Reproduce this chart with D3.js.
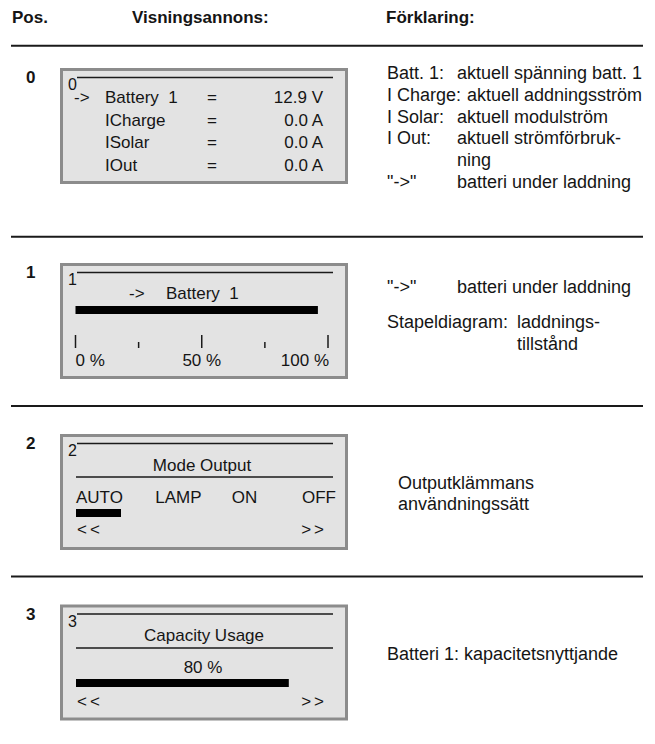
<!DOCTYPE html>
<html><head><meta charset="utf-8">
<script src="https://cdn.jsdelivr.net/npm/d3@7"></script>
<style>
body{margin:0;background:#fff}
svg{display:block}
text{font-family:"Liberation Sans",Arial,Helvetica,sans-serif;fill:#151515}
</style>
</head><body><svg id="c" width="655" height="744"></svg>
<script>
// ---------------- data ----------------
const headers = ["Pos.", "Visningsannons:", "Förklaring:"];
const positions = ["0", "1", "2", "3"];

// Pos 0 display
const rowLabels = ["Battery  1", "ICharge", "ISolar", "IOut"];
const rowValues = ["12.9 V", "0.0 A", "0.0 A", "0.0 A"];
const chargingRow = "Battery  1";
const explain0 = [
  ["Batt. 1:", "aktuell spänning batt. 1"],
  ["I Charge:", "aktuell addningsström"],
  ["I Solar:", "aktuell modulström"],
  ["I Out:", "aktuell strömförbruk-"],
  ["", "ning"],
  ["\"->\"", "batteri under laddning"]
];

// Pos 1 display
const batteryName = "Battery  1";
const chargeLevel = 96;              // % shown by the bar
const chargeTicks = [0, 25, 50, 75, 100];
const chargeTickLabels = [[0, "0 %"], [50, "50 %"], [100, "100 %"]];
const explain1 = [["\"->\"", "batteri under laddning"], ["Stapeldiagram:", "laddnings-"], ["", "tillstånd"]];

// Pos 2 display
const modeTitle = "Mode Output";
const modeOptions = ["AUTO", "LAMP", "ON", "OFF"];
const modeSelected = "AUTO";
const explain2 = ["Outputklämmans", "användningssätt"];

// Pos 3 display
const capacityTitle = "Capacity Usage";
const capacityUsage = 80;            // %
const explain3 = "Batteri 1: kapacitetsnyttjande";

// ---------------- layout ----------------
const svg = d3.select("#c");
const FS = 17, RFS = 18;
const boxTop = [68, 263, 434, 604.5];
const sepY = [45.7, 236.7, 406, 576.5];
const BX0 = 60, BX1 = 348, IN0 = 76, IN1 = 333, CX = 204;

svg.selectAll("text.hdr").data(headers).join("text").attr("class", "hdr")
  .attr("x", (d, i) => [12, 132, 386][i]).attr("y", 23)
  .attr("font-weight", "bold").attr("font-size", FS).text(d => d);

svg.selectAll("line.sep").data(sepY).join("line").attr("class", "sep")
  .attr("x1", 11).attr("x2", 643).attr("y1", d => d).attr("y2", d => d)
  .attr("stroke", "#1a1a1a").attr("stroke-width", 2);

svg.selectAll("text.pos").data(positions).join("text").attr("class", "pos")
  .attr("x", 26).attr("y", (d, i) => boxTop[i] + 15)
  .attr("font-weight", "bold").attr("font-size", FS).text(d => d);

const boxes = svg.selectAll("g.box").data(positions).join("g").attr("class", "box")
  .attr("transform", (d, i) => `translate(0,${boxTop[i]})`);
boxes.append("rect").attr("x", BX0 + 1.5).attr("y", 1.5).attr("width", BX1 - BX0 - 3).attr("height", 113)
  .attr("fill", "#e3e3e3").attr("stroke", "#8c8c8c").attr("stroke-width", 3);
boxes.append("text").attr("x", 68).attr("y", 22).attr("font-size", 16).text(d => d);
boxes.append("line").attr("x1", 77).attr("x2", IN1).attr("y1", 9.5).attr("y2", 9.5)
  .attr("stroke", "#1a1a1a").attr("stroke-width", 1.6);

const g = positions.map((p, i) => d3.select(boxes.nodes()[i]));

// ---- Pos 0 ----
const yRow = d3.scalePoint().domain(rowLabels).range([35, 103]);
g[0].selectAll("text.lbl").data(rowLabels).join("text").attr("class", "lbl")
  .attr("x", 105).attr("y", d => yRow(d)).attr("font-size", FS)
  .style("white-space", "pre").text(d => d);
g[0].selectAll("text.eq").data(rowLabels).join("text").attr("class", "eq")
  .attr("x", 212).attr("y", d => yRow(d)).attr("font-size", FS).attr("text-anchor", "middle").text("=");
g[0].selectAll("text.val").data(rowValues).join("text").attr("class", "val")
  .attr("x", 323).attr("y", (d, i) => yRow(rowLabels[i])).attr("font-size", FS)
  .attr("text-anchor", "end").text(d => d);
g[0].append("text").attr("x", 74).attr("y", yRow(chargingRow)).attr("font-size", FS).text("->");

// ---- Pos 1 ----
g[1].append("text").attr("x", 129).attr("y", 36).attr("font-size", FS).text("->");
g[1].append("text").attr("x", 166).attr("y", 36).attr("font-size", FS)
  .style("white-space", "pre").text(batteryName);
const xCharge = d3.scaleLinear().domain([0, 100]).range([75.5, 328]);
g[1].append("rect").attr("x", xCharge(0)).attr("y", 43).attr("width", xCharge(chargeLevel) - xCharge(0))
  .attr("height", 8).attr("fill", "#000");
g[1].selectAll("line.tk").data(chargeTicks).join("line").attr("class", "tk")
  .attr("x1", d => xCharge(d)).attr("x2", d => xCharge(d))
  .attr("y1", d => d % 50 === 0 ? 72 : 79).attr("y2", 85)
  .attr("stroke", "#1a1a1a").attr("stroke-width", 1.5);
g[1].selectAll("text.tl").data(chargeTickLabels).join("text").attr("class", "tl")
  .attr("x", d => xCharge(d[0]) + (d[0] === 100 ? 1 : 0)).attr("y", 103).attr("font-size", FS)
  .attr("text-anchor", d => d[0] === 0 ? "start" : d[0] === 100 ? "end" : "middle")
  .text(d => d[1]);

// ---- Pos 2 ----
g[2].append("text").attr("x", CX - 2).attr("y", 37).attr("font-size", FS).attr("text-anchor", "middle").text(modeTitle);
g[2].append("line").attr("x1", IN0).attr("x2", IN1).attr("y1", 43).attr("y2", 43)
  .attr("stroke", "#1a1a1a").attr("stroke-width", 1.6);
const xOpt = d3.scalePoint().domain(modeOptions).range([76, 302]);
g[2].selectAll("text.opt").data(modeOptions).join("text").attr("class", "opt")
  .attr("x", d => xOpt(d) + (d === "LAMP" ? 4 : d === "ON" ? 5 : 0)).attr("y", 69).attr("font-size", FS).text(d => d);
g[2].append("rect").attr("x", xOpt(modeSelected)).attr("y", 75).attr("width", 45).attr("height", 8).attr("fill", "#000");
g[2].append("text").attr("x", 77).attr("y", 101).attr("font-size", FS).attr("letter-spacing", 3).text("<<");
g[2].append("text").attr("x", 327).attr("y", 101).attr("font-size", FS).attr("letter-spacing", 3).attr("text-anchor", "end").text(">>");

// ---- Pos 3 ----
g[3].append("text").attr("x", CX).attr("y", 36.5).attr("font-size", FS).attr("text-anchor", "middle").text(capacityTitle);
g[3].append("line").attr("x1", IN0).attr("x2", IN1).attr("y1", 43.5).attr("y2", 43.5)
  .attr("stroke", "#1a1a1a").attr("stroke-width", 1.6);
g[3].append("text").attr("x", CX - 1).attr("y", 68.5).attr("font-size", FS).attr("text-anchor", "middle").text(capacityUsage + " %");
const xCap = d3.scaleLinear().domain([0, 100]).range([76, 342]);
g[3].append("rect").attr("x", xCap(0)).attr("y", 74.5).attr("width", xCap(capacityUsage) - xCap(0))
  .attr("height", 8).attr("fill", "#000");
g[3].append("text").attr("x", 77).attr("y", 102.5).attr("font-size", FS).attr("letter-spacing", 3).text("<<");
g[3].append("text").attr("x", 327).attr("y", 102.5).attr("font-size", FS).attr("letter-spacing", 3).attr("text-anchor", "end").text(">>");

// ---------------- explanations ----------------
const RX = 387;
const ex0Y = [79, 101, 122.5, 144, 165.5, 187.5];
const ex0DX = [457, 467, 457, 457, 457, 457];
explain0.forEach((r, i) => {
  svg.append("text").attr("x", RX).attr("y", ex0Y[i]).attr("font-size", RFS).text(r[0]);
  svg.append("text").attr("x", ex0DX[i]).attr("y", ex0Y[i]).attr("font-size", RFS).text(r[1]);
});
const ex1Y = [293, 328, 350];
const ex1DX = [457, 517, 517];
explain1.forEach((r, i) => {
  svg.append("text").attr("x", RX).attr("y", ex1Y[i]).attr("font-size", RFS).text(r[0]);
  svg.append("text").attr("x", ex1DX[i]).attr("y", ex1Y[i]).attr("font-size", RFS).text(r[1]);
});
svg.selectAll("text.ex2").data(explain2).join("text").attr("class", "ex2")
  .attr("x", 398).attr("y", (d, i) => 489 + i * 20.5).attr("font-size", RFS).text(d => d);
svg.append("text").attr("x", RX).attr("y", 660).attr("font-size", RFS).text(explain3);
</script>
</body></html>
